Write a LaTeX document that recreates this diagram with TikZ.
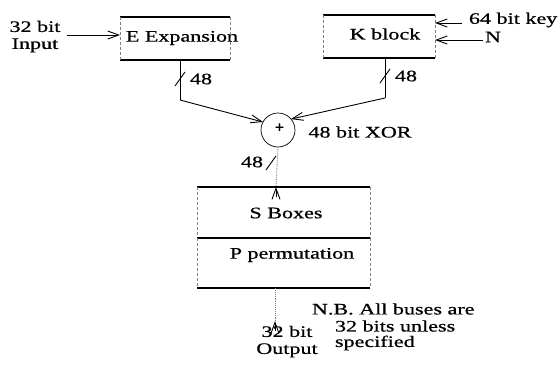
\documentclass[tikz,border=0pt]{standalone}
\usepackage{fontspec}
\usepackage{graphicx}
\setmainfont[FakeBold=0.6]{Liberation Serif}
\usetikzlibrary{arrows.meta}
\newcommand{\hs}[1]{\scalebox{1.38}[1]{#1}}
\newcommand{\hst}[1]{\scalebox{1.38}[1]{\begin{tabular}{@{}c@{}}#1\end{tabular}}}
\begin{document}
\begin{tikzpicture}[x=1pt,y=-1pt,
  every node/.style={font=\fontsize{16}{17}\selectfont, inner sep=0pt, outer sep=0pt},
  boxn/.style={draw=none, rectangle},
  hline/.style={line width=1.4pt},
  vline/.style={line width=0.5pt, gray, densely dashed},
  arr/.style={line width=0.9pt, -{Straight Barb[length=11pt,width=8pt]}},
  bus/.style={line width=0.9pt},
  faint/.style={line width=0.9pt, gray, densely dotted},
  slash/.style={line width=0.9pt}]
\useasboundingbox (0,0) rectangle (560,368);

% boxes
\node[boxn, minimum width=110pt, minimum height=43pt] (E) at (175,38.5) {};
\node[boxn, minimum width=112pt, minimum height=43pt] (K) at (379,36.5) {};
\node[boxn, minimum width=173pt, minimum height=51pt] (S) at (283.5,212.5) {};
\node[boxn, minimum width=173pt, minimum height=50pt] (P) at (283.5,263) {};

% box texts
\node (Et) at (182,38) {\hs{E Expansion}};
\node (Kt) at (385,34) {\hs{K block}};
\node (St) at (286,213) {\hs{S Boxes}};
\node (Pt) at (292,255) {\hs{P permutation}};

% box edges
\foreach \b in {E,K,S,P}{
  \draw[hline] (\b.north west) -- (\b.north east);
  \draw[hline] (\b.south west) -- (\b.south east);
  \draw[vline] (\b.north west) -- (\b.south west);
  \draw[vline] (\b.north east) -- (\b.south east);
}

% XOR
\node[draw, circle, minimum size=34pt, line width=0.7pt] (xor) at (278,130) {};
\node (plus) at (279.5,128) {\textbf{+}};
\node (xorl) at (360,132) {\hs{48 bit XOR}};

% input
\node (inl) at (35,37) {\hst{32 bit\\Input}};
\coordinate (inA) at (67,35);
\draw[arr] (inA) -- (E.west |- inA);

% key inputs
\node[anchor=west] (keyl) at (469,20) {\hs{64 bit key}};
\node[anchor=west] (nl) at (485,37) {\hs{N}};
\coordinate (k1) at (462,23);
\coordinate (k2) at (483,40);
\draw[arr] (k1) -- (K.east |- k1);
\draw[arr] (k2) -- (K.east |- k2);

% E output bus
\coordinate (eb) at (180,100);
\draw[bus] (E.south -| eb) -- (eb);
\draw[arr] (eb) -- (xor.152);
\coordinate (es) at (180,79);
\draw[slash] ([shift={(-5,7)}]es) -- ([shift={(5,-7)}]es);
\node (e48) at (201,79) {\hs{48}};

% K output bus
\coordinate (kb) at (385,98);
\draw[bus] (K.south -| kb) -- (kb);
\draw[arr] (kb) -- (xor.40);
\coordinate (ks) at (385,76);
\draw[slash] ([shift={(-5,7)}]ks) -- ([shift={(5,-7)}]ks);
\node (k48) at (406,76) {\hs{48}};

% XOR to S
\coordinate (xs) at (276,187);
\draw[faint] (xor.south) -- (xs);
\draw[arr] ([yshift=-10pt]xs) -- (xs);
\coordinate (xsl) at (271,163);
\draw[slash] ([shift={(-5,7)}]xsl) -- ([shift={(5,-7)}]xsl);
\node (x48) at (252,162) {\hs{48}};

% output
\coordinate (o2) at (275,321);
\draw[faint] (P.south -| o2) -- (o2);
\draw[arr] ([yshift=-10pt]o2) -- (o2);
\node (outl) at (287,342) {\hst{32 bit\\Output}};

% note
\node[anchor=west] (nb1) at (312,309) {\hs{N.B. All buses are}};
\node[anchor=west] (nb2) at (335,326) {\hs{32 bits unless}};
\node[anchor=west] (nb3) at (335,343) {\hs{specified}};
\end{tikzpicture}
\end{document}
